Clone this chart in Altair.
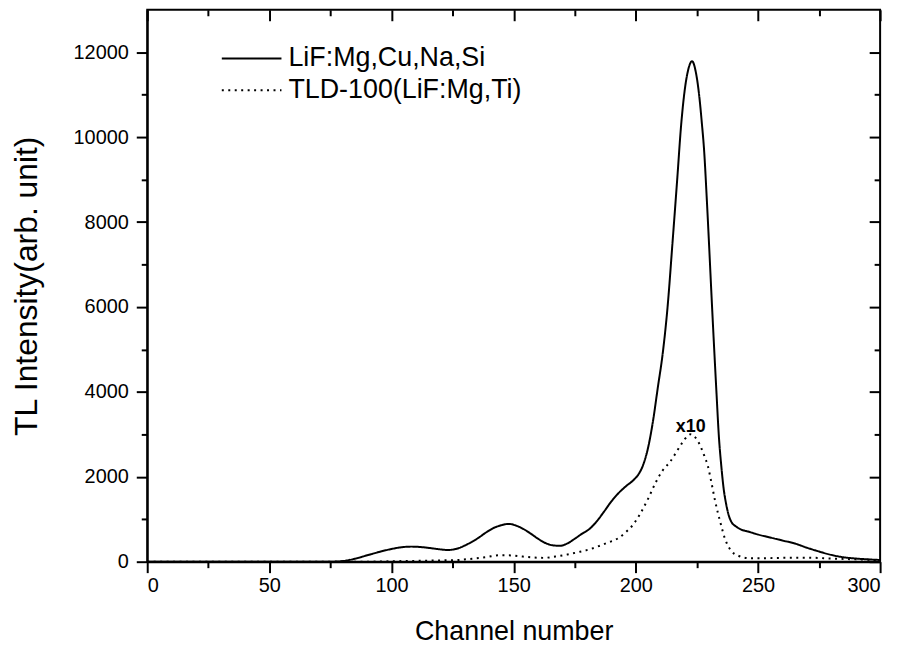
import altair as alt
import pandas as pd

# ---- data ----
series_names = ["LiF:Mg,Cu,Na,Si", "TLD-100(LiF:Mg,Ti)"]

channel_lif = [0, 50, 75, 80, 85, 90, 95, 100, 104, 108, 112, 116, 120, 123, 127, 131, 135, 139,
               142, 145, 148, 151, 154, 157, 160, 163, 166, 169, 172, 175, 178, 181, 184, 187, 190,
               193, 196, 199, 201, 203, 205, 207, 209, 211, 213, 215, 217, 218.5, 220, 221.5, 223,
               224.5, 226, 227, 228, 229, 230, 231, 232, 233, 234, 235, 236, 237, 238, 239, 241,
               243, 246, 250, 255, 260, 265, 270, 275, 280, 285, 290, 295, 300]
intensity_lif = [0, 0, 0, 15, 70, 150, 230, 300, 340, 355, 345, 320, 290, 275, 310, 410, 540, 700,
                 800, 860, 890, 850, 770, 660, 540, 440, 385, 375, 430, 540, 660, 770, 950, 1180, 1420,
                 1620, 1780, 1920, 2050, 2280, 2680, 3300, 4100, 4900, 6000, 7500, 9050, 10250, 11100, 11600, 11790,
                 11550, 10950, 10350, 9650, 8600, 7450, 6250, 5100, 4000, 2950, 2250, 1700, 1350, 1100, 950, 830,
                 760, 710, 640, 570, 500, 430, 330, 240, 160, 105, 75, 55, 40]

channel_tld = [0, 90, 100, 110, 120, 127, 133, 139, 144, 148, 152, 157, 162, 167, 172, 176, 181, 185,
               189, 193, 196, 199, 202, 205, 208, 211, 214, 217, 219, 221, 222.5, 224, 226, 228, 229.5,
               231, 232.5, 234.5, 236.5, 238.5, 240, 242, 244, 247, 250, 260, 270, 280, 290, 300]
intensity_tld = [0, 0, 10, 20, 30, 40, 70, 110, 150, 150, 130, 105, 90, 120, 170, 220, 290, 370,
                 460, 560, 700, 880, 1150, 1480, 1850, 2150, 2350, 2620, 2800, 2950, 3000, 2950, 2780, 2500, 2250,
                 1850, 1420, 950, 540, 300, 200, 140, 100, 80, 80, 90, 95, 75, 55, 35]

annotation_text = ["x10"]
annotation_channel = [222.5]
annotation_intensity = [3050]

x_major = list(range(0, 301, 50))
x_all = list(range(0, 301, 25))
x_minor = [v for v in x_all if v not in x_major]
y_major = list(range(0, 12001, 2000))
y_all = list(range(0, 12001, 1000))
y_minor = [v for v in y_all if v not in y_major]

FONT = "Liberation Sans"

df = pd.concat([
    pd.DataFrame({"channel": channel_lif, "intensity": intensity_lif, "series": series_names[0]}),
    pd.DataFrame({"channel": channel_tld, "intensity": intensity_tld, "series": series_names[1]}),
])
ann_df = pd.DataFrame({"channel": annotation_channel, "intensity": annotation_intensity, "text": annotation_text})

xs = alt.Scale(domain=[0, 300], nice=False, zero=False)
ys = alt.Scale(domain=[0, 13000], nice=False, zero=False)

major_x_test = "datum.value % 50 === 0"
major_y_test = "datum.value % 2000 === 0"

bottom_axis = alt.Axis(
    orient="bottom", values=x_all, grid=False,
    labelExpr=f"{major_x_test} ? datum.label : ''",
    tickSize={"condition": {"test": major_x_test, "value": 11}, "value": 6},
    labelPadding=3, labelFontSize=20,
    title="Channel number", titleFontSize=27, titlePadding=23,
)
left_axis = alt.Axis(
    orient="left", values=y_all, grid=False, format="d",
    labelExpr=f"{major_y_test} ? datum.label : ''",
    tickSize={"condition": {"test": major_y_test, "value": 11}, "value": 6},
    labelPadding=8, labelFontSize=20,
    title="TL Intensity(arb. unit)", titleFontSize=32, titlePadding=30,
)
top_major = alt.Axis(orient="top", values=x_major, labels=False, domain=False, grid=False,
                     tickSize=11, offset=-11, title=None)
right_major = alt.Axis(orient="right", values=y_major, labels=False, domain=False, grid=False,
                       tickSize=11, offset=-11, title=None)
top_minor = alt.Axis(orient="top", values=x_minor, labels=False, domain=False, grid=False,
                     tickSize=6, offset=-6, title=None)
right_minor = alt.Axis(orient="right", values=y_minor, labels=False, domain=False, grid=False,
                       tickSize=6, offset=-6, title=None)

lines = alt.Chart(df).mark_line(color="black", strokeWidth=2, interpolate="monotone").encode(
    x=alt.X("channel:Q", scale=xs, axis=bottom_axis),
    y=alt.Y("intensity:Q", scale=ys, axis=left_axis),
    strokeDash=alt.StrokeDash(
        "series:N",
        scale=alt.Scale(domain=series_names, range=[[1, 0], [2, 4.5]]),
        legend=alt.Legend(
            title=None, orient="none", legendX=74, legendY=35,
            symbolType="stroke", symbolSize=3600, symbolStrokeWidth=2,
            symbolStrokeColor="black", labelFontSize=27, labelFont=FONT,
            labelColor="black", labelOffset=6, labelLimit=500,
            clipHeight=28, rowPadding=4, padding=0,
        ),
    ),
)

ann = alt.Chart(ann_df).mark_text(
    font=FONT, fontSize=18, fontWeight="bold", color="black", align="center", baseline="alphabetic"
).encode(
    x=alt.X("channel:Q", scale=xs, axis=top_major),
    y=alt.Y("intensity:Q", scale=ys, axis=right_major),
    text="text:N",
)

ghost = alt.Chart(ann_df).mark_point(opacity=0).encode(
    x=alt.X("channel:Q", scale=xs, axis=top_minor),
    y=alt.Y("intensity:Q", scale=ys, axis=right_minor),
)

chart = alt.layer(lines, ann, ghost).resolve_axis(
    x="independent", y="independent"
).properties(
    width=737, height=555,
    padding={"left": 140, "top": 0, "right": 20, "bottom": 87},
    autosize=alt.AutoSizeParams(type="none"),
).configure_view(
    stroke="black", strokeWidth=2
).configure_axis(
    domainColor="black", domainWidth=2, tickColor="black", tickWidth=2,
    labelFont=FONT, labelColor="black", titleFont=FONT, titleColor="black",
    titleFontWeight="normal",
)

chart.save("out.html", embed_options={"renderer": "svg", "actions": False})
